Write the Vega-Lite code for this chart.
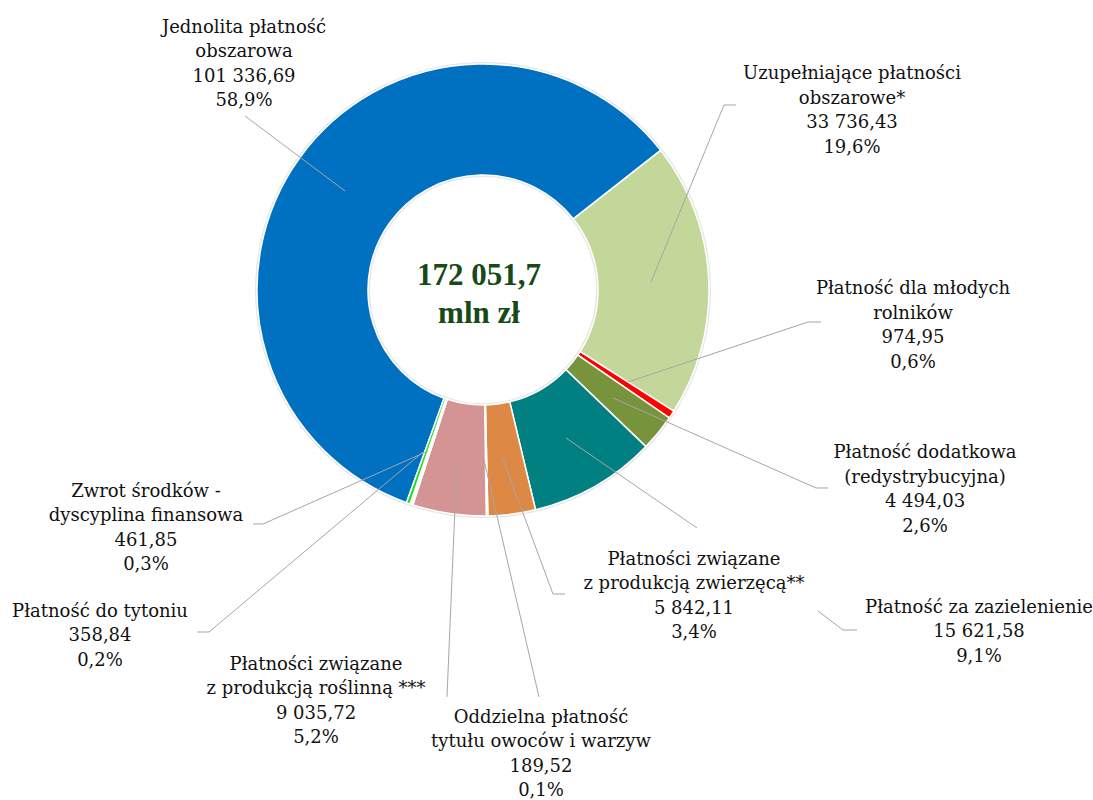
{
  "$schema": "https://vega.github.io/schema/vega-lite/v6.json",
  "width": 966,
  "height": 580,
  "autosize": {"type": "none"},
  "padding": {"left": 0, "top": 0, "right": 127, "bottom": 220},
  "background": "#FFFFFF",
  "config": {"view": {"stroke": null}},
  "datasets": {
    "slices": [
      {"idx": 1, "name": "Jednolita płatność obszarowa", "value": 101336.69},
      {"idx": 2, "name": "Uzupełniające płatności obszarowe*", "value": 33736.43},
      {"idx": 3, "name": "Płatność dla młodych rolników", "value": 974.95},
      {"idx": 4, "name": "Płatność dodatkowa (redystrybucyjna)", "value": 4494.03},
      {"idx": 5, "name": "Płatność za zazielenienie", "value": 15621.58},
      {"idx": 6, "name": "Płatności związane z produkcją zwierzęcą**", "value": 5842.11},
      {"idx": 7, "name": "Oddzielna płatność tytułu owoców i warzyw", "value": 189.52},
      {"idx": 8, "name": "Płatności związane z produkcją roślinną ***", "value": 9035.72},
      {"idx": 9, "name": "Płatność do tytoniu", "value": 358.84},
      {"idx": 10, "name": "Zwrot środków - dyscyplina finansowa", "value": 461.85}
    ],
    "labels": [
      {"label": "Jednolita płatność\nobszarowa\n101 336,69\n58,9%", "x": -1.0575, "y": 1.1372},
      {"label": "Uzupełniające płatności\nobszarowe*\n33 736,43\n19,6%", "x": 1.6327, "y": 0.9336},
      {"label": "Płatność dla młodych\nrolników\n974,95\n0,6%", "x": 1.9027, "y": -0.0177},
      {"label": "Płatność dodatkowa\n(redystrybucyjna)\n4 494,03\n2,6%", "x": 1.9558, "y": -0.7434},
      {"label": "Płatność za zazielenienie\n15 621,58\n9,1%", "x": 2.1947, "y": -1.4292},
      {"label": "Płatności związane\nz produkcją zwierzęcą**\n5 842,11\n3,4%", "x": 0.9336, "y": -1.2168},
      {"label": "Oddzielna płatność\ntytułu owoców i warzyw\n189,52\n0,1%", "x": 0.2566, "y": -1.9159},
      {"label": "Płatności związane\nz produkcją roślinną ***\n9 035,72\n5,2%", "x": -0.7389, "y": -1.6814},
      {"label": "Płatność do tytoniu\n358,84\n0,2%", "x": -1.6947, "y": -1.4469},
      {"label": "Zwrot środków -\ndyscyplina finansowa\n461,85\n0,3%", "x": -1.4912, "y": -0.9159}
    ],
    "leaders": [
      {"seg": "a1", "k": 1, "x": -0.6106, "y": 0.4381},
      {"seg": "a1", "k": 2, "x": -1.0531, "y": 0.7699},
      {"seg": "a2", "k": 1, "x": 0.7434, "y": 0.0354},
      {"seg": "a2", "k": 2, "x": 1.0664, "y": 0.8186},
      {"seg": "a2", "k": 3, "x": 1.1195, "y": 0.8186},
      {"seg": "a3", "k": 1, "x": 0.6416, "y": -0.4071},
      {"seg": "a3", "k": 2, "x": 1.4381, "y": -0.1416},
      {"seg": "a3", "k": 3, "x": 1.4956, "y": -0.1416},
      {"seg": "a4", "k": 1, "x": 0.5752, "y": -0.4779},
      {"seg": "a4", "k": 2, "x": 1.4735, "y": -0.8761},
      {"seg": "a4", "k": 3, "x": 1.5265, "y": -0.8761},
      {"seg": "a5a", "k": 1, "x": 0.3673, "y": -0.6549},
      {"seg": "a5a", "k": 2, "x": 0.9469, "y": -1.0531},
      {"seg": "a5b", "k": 1, "x": 1.4823, "y": -1.4204},
      {"seg": "a5b", "k": 2, "x": 1.5929, "y": -1.5044},
      {"seg": "a5b", "k": 3, "x": 1.6549, "y": -1.5044},
      {"seg": "a6", "k": 1, "x": 0.0885, "y": -0.7478},
      {"seg": "a6", "k": 2, "x": 0.3097, "y": -1.3451},
      {"seg": "a6", "k": 3, "x": 0.3628, "y": -1.3451},
      {"seg": "a7", "k": 1, "x": 0.0044, "y": -0.7522},
      {"seg": "a7", "k": 2, "x": 0.2478, "y": -1.8009},
      {"seg": "a8", "k": 1, "x": -0.115, "y": -0.7478},
      {"seg": "a8", "k": 2, "x": -0.1593, "y": -1.8009},
      {"seg": "a9", "k": 1, "x": -0.2655, "y": -0.7168},
      {"seg": "a9", "k": 2, "x": -1.2124, "y": -1.5133},
      {"seg": "a9", "k": 3, "x": -1.2655, "y": -1.5133},
      {"seg": "a10", "k": 1, "x": -0.2434, "y": -0.7124},
      {"seg": "a10", "k": 2, "x": -0.9735, "y": -1.0354},
      {"seg": "a10", "k": 3, "x": -1.0177, "y": -1.0354}
    ],
    "center": [
      {"text": "172 051,7\nmln zł", "x": -0.0177, "y": 0.0221}
    ]
  },
  "layer": [
    {
      "data": {"name": "slices"},
      "mark": {"type": "arc", "radius": 228, "radius2": 113, "fill": "#E6E6E6"},
      "encoding": {
        "theta": {"field": "value", "type": "quantitative", "stack": true, "scale": {"range": [3.487, 9.7702]}},
        "order": {"field": "idx", "type": "quantitative"}
      }
    },
    {
      "data": {"name": "slices"},
      "mark": {"type": "arc", "radius": 226, "radius2": 115, "stroke": "#FFFFFF", "strokeWidth": 1.5},
      "encoding": {
        "theta": {"field": "value", "type": "quantitative", "stack": true, "scale": {"range": [3.487, 9.7702]}},
        "order": {"field": "idx", "type": "quantitative"},
        "color": {
          "field": "name",
          "type": "nominal",
          "legend": null,
          "scale": {
            "domain": [
              "Jednolita płatność obszarowa",
              "Uzupełniające płatności obszarowe*",
              "Płatność dla młodych rolników",
              "Płatność dodatkowa (redystrybucyjna)",
              "Płatność za zazielenienie",
              "Płatności związane z produkcją zwierzęcą**",
              "Oddzielna płatność tytułu owoców i warzyw",
              "Płatności związane z produkcją roślinną ***",
              "Płatność do tytoniu",
              "Zwrot środków - dyscyplina finansowa"
            ],
            "range": ["#0070C0", "#C4D79B", "#FF0000", "#77933C", "#008080", "#DD8844", "#FFFFFF", "#D49494", "#FFFFFF", "#1FE01F"]
          }
        }
      }
    },
    {
      "data": {"name": "leaders"},
      "mark": {"type": "line", "stroke": "#A6A6A6", "strokeWidth": 1},
      "encoding": {
        "x": {"field": "x", "type": "quantitative", "scale": {"domain": [-2.1372, 2.1372], "nice": false, "zero": false}, "axis": null},
        "y": {"field": "y", "type": "quantitative", "scale": {"domain": [-1.2832, 1.2832], "nice": false, "zero": false}, "axis": null},
        "detail": {"field": "seg", "type": "nominal"},
        "order": {"field": "k", "type": "quantitative"}
      }
    },
    {
      "data": {"name": "labels"},
      "mark": {"type": "text", "align": "center", "baseline": "alphabetic", "lineBreak": "\n", "lineHeight": 24.5, "font": "DejaVu Serif", "fontSize": 18, "color": "#111111"},
      "encoding": {
        "x": {"field": "x", "type": "quantitative", "scale": {"domain": [-2.1372, 2.1372], "nice": false, "zero": false}, "axis": null},
        "y": {"field": "y", "type": "quantitative", "scale": {"domain": [-1.2832, 1.2832], "nice": false, "zero": false}, "axis": null},
        "text": {"field": "label", "type": "nominal"}
      }
    },
    {
      "data": {"name": "center"},
      "mark": {"type": "text", "align": "center", "baseline": "alphabetic", "lineBreak": "\n", "lineHeight": 38, "font": "Liberation Serif", "fontWeight": "bold", "fontSize": 31, "color": "#174A17"},
      "encoding": {
        "x": {"field": "x", "type": "quantitative", "scale": {"domain": [-2.1372, 2.1372], "nice": false, "zero": false}, "axis": null},
        "y": {"field": "y", "type": "quantitative", "scale": {"domain": [-1.2832, 1.2832], "nice": false, "zero": false}, "axis": null},
        "text": {"field": "text", "type": "nominal"}
      }
    }
  ]
}
